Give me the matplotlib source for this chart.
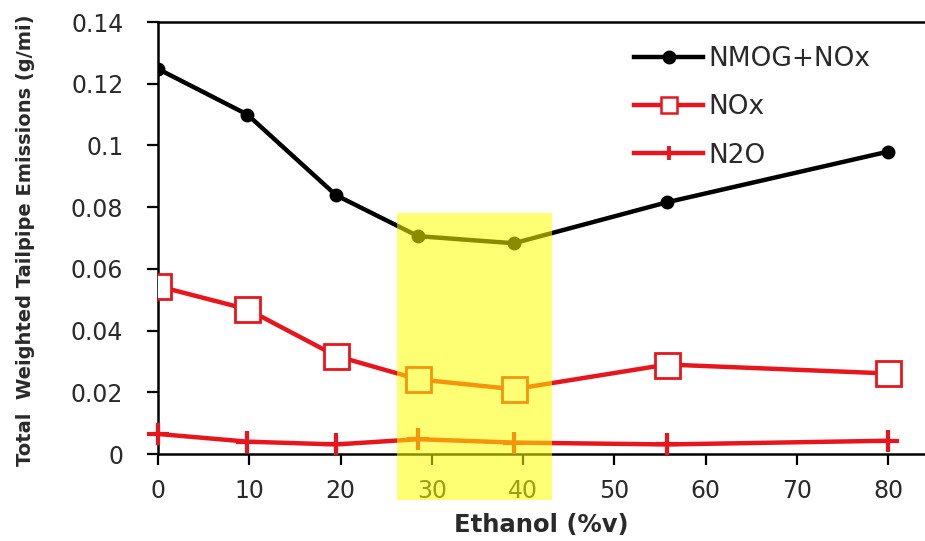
import matplotlib.pyplot as plt
from matplotlib.lines import Line2D
from matplotlib.patches import Rectangle

# ethanol content of each blend (%v), as placed on the chart
ethanol = [0, 9.8, 19.5, 28.5, 39, 55.8, 80]

nmog_nox = [0.1248, 0.1100, 0.0839, 0.0706, 0.0683, 0.0816, 0.0980]
nox = [0.0544, 0.0469, 0.0318, 0.0242, 0.0210, 0.0290, 0.0261]
n2o = [0.0065, 0.0040, 0.0031, 0.0048, 0.0037, 0.0031, 0.0043]

x_ticks = [0, 10, 20, 30, 40, 50, 60, 70, 80]
y_ticks = [0, 0.02, 0.04, 0.06, 0.08, 0.1, 0.12, 0.14]
y_tick_labels = ["0", "0.02", "0.04", "0.06", "0.08", "0.1", "0.12", "0.14"]

# highlighted band (E30 - E40)
band_x = (26.2, 43.2)
band_y = (-0.0149, 0.0781)

red = "#e8161c"
txt = "#2a2a2a"

fig = plt.figure(figsize=(9.25, 5.41), dpi=100)
ax = fig.add_axes([0.1708, 0.1608, 0.8292, 0.7985])

ax.plot(ethanol, nmog_nox, color="black", lw=3.2, marker="o", ms=9, zorder=3)
ax.plot(ethanol, nox, color=red, lw=3.2, marker="s", ms=18, mfc="white",
        mec=red, mew=2, zorder=3)
ax.plot(ethanol, n2o, color=red, lw=3.2, marker="+", ms=16, mew=3,
        zorder=3, clip_on=False)

ax.add_patch(Rectangle((band_x[0], band_y[0]), band_x[1] - band_x[0],
                       band_y[1] - band_y[0], facecolor="#ffff00", alpha=0.55,
                       edgecolor="none", zorder=10, clip_on=False))

ax.set_xlim(0, 84.05)
ax.set_ylim(0, 0.14)
ax.set_xticks(x_ticks)
ax.set_yticks(y_ticks)
ax.set_yticklabels(y_tick_labels)

ax.spines["right"].set_visible(False)
for s in ["left", "top", "bottom"]:
    ax.spines[s].set_linewidth(1.8)
    ax.spines[s].set_color("black")
ax.tick_params(axis="both", direction="out", length=8, width=1.6,
               labelsize=17, labelcolor=txt)
ax.tick_params(axis="x", pad=10)
ax.tick_params(axis="y", pad=17)

ax.set_xlabel("Ethanol (%v)", fontsize=17.5, fontweight="bold", color=txt)
ax.xaxis.set_label_coords(0.5, -0.136)
ax.set_ylabel("Total  Weighted Tailpipe Emissions (g/mi)", fontsize=14,
              fontweight="bold", color=txt)
ax.yaxis.set_label_coords(-0.16, 0.495)

handles = [
    Line2D([], [], color="black", lw=3.2, marker="o", ms=9),
    Line2D([], [], color=red, lw=3.2, marker="s", ms=11, mfc="white",
           mec=red, mew=1.8),
    Line2D([], [], color=red, lw=3.2, marker="+", ms=10, mew=2.8),
]
ax.legend(handles, ["NMOG+NOx", "NOx", "N2O"], loc="upper left",
          bbox_to_anchor=(0.59, 1.0), frameon=False, fontsize=19,
          handlelength=2.6, handletextpad=0.2, labelspacing=0.85,
          labelcolor=txt)

fig.savefig("out.png", dpi=100)
